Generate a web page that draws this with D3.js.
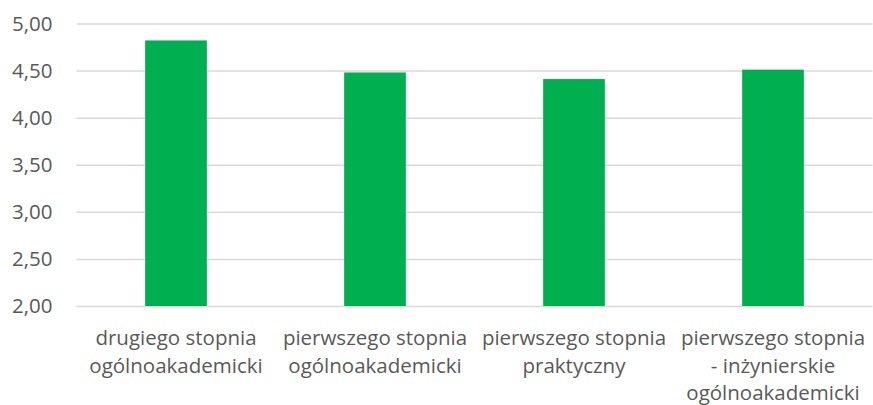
<!DOCTYPE html>
<html>
<head>
<meta charset="utf-8">
<script src="https://cdn.jsdelivr.net/npm/d3@7"></script>
<style>
	html, body { margin: 0; padding: 0; background: #fff; }
	svg { display: block; }
	text { font-family: "Open Sans", sans-serif; fill: #595959; }
</style>
</head>
<body>
<svg id="chart" width="873" height="405"></svg>
<script>
// category labels, one array per wrapped line set
const categories = ['drugi_oa', 'pierwszy_oa', 'pierwszy_pr', 'pierwszy_inz'];
const categoryLines = [
	['drugiego stopnia', 'ogólnoakademicki'],
	['pierwszego stopnia', 'ogólnoakademicki'],
	['pierwszego stopnia', 'praktyczny'],
	['pierwszego stopnia', '- inżynierskie', 'ogólnoakademicki']
];
const values = [4.82, 4.48, 4.41, 4.51];
const yTicks = [2.0, 2.5, 3.0, 3.5, 4.0, 4.5, 5.0];

const svg = d3.select('#chart');
const margin = {top: 23.5, right: 0.5, bottom: 99, left: 76.5};
const width = 873 - margin.left - margin.right;
const height = 405 - margin.top - margin.bottom;

const g = svg.append('g')
	.attr('transform', `translate(${margin.left}, ${margin.top})`);

const x = d3.scaleBand()
	.domain(categories)
	.range([0, width])
	.paddingInner(0.69)
	.paddingOuter(0.345);

const y = d3.scaleLinear()
	.domain([2, 5])
	.range([height, 0]);

// gridlines + tick labels
const yAxis = g.append('g')
	.call(d3.axisLeft(y)
		.tickValues(yTicks)
		.tickSize(-width)
		.tickPadding(24)
		.tickFormat(d => d3.format('.2f')(d).replace('.', ',')));
yAxis.select('.domain').remove();
yAxis.selectAll('line')
	.attr('stroke', '#d9d9d9')
	.attr('stroke-width', 1.5);
yAxis.selectAll('text')
	.style('font-family', '"Open Sans", sans-serif')
	.style('font-size', '20.5px')
	.attr('fill', '#595959');

// bars
g.append('g')
	.selectAll('rect')
	.data(values)
	.enter()
	.append('rect')
	.attr('x', (v, i) => x(categories[i]))
	.attr('y', v => y(v))
	.attr('width', x.bandwidth())
	.attr('height', v => y(2) - y(v))
	.attr('fill', '#00b050');

// category labels
const labels = g.append('g')
	.selectAll('text')
	.data(categoryLines)
	.enter()
	.append('text')
	.attr('text-anchor', 'middle')
	.style('font-size', '20.5px')
	.attr('transform', (d, i) => `translate(${x(categories[i]) + x.bandwidth() / 2}, ${height + 39})`);
labels.selectAll('tspan')
	.data(d => d)
	.enter()
	.append('tspan')
	.attr('x', 0)
	.attr('y', (d, j) => j * 27.6)
	.text(d => d);
</script>
</body>
</html>
